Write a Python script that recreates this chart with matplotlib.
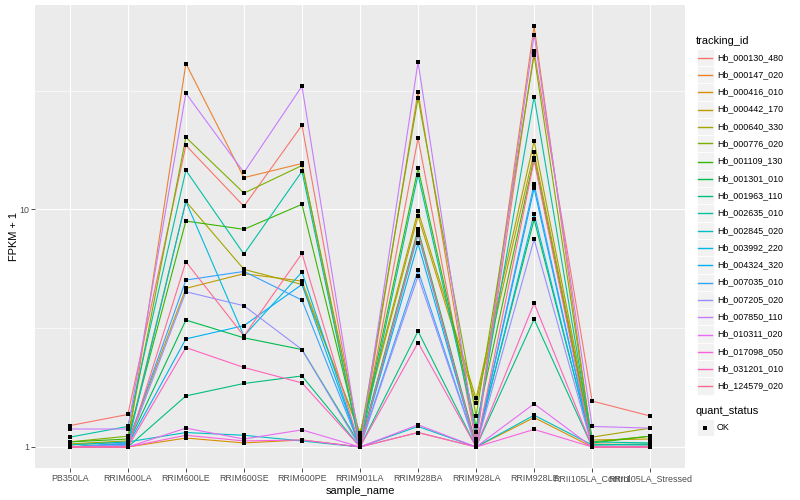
import numpy as np
import matplotlib
matplotlib.use("Agg")
import matplotlib.pyplot as plt
from matplotlib.patches import Rectangle
from matplotlib.lines import Line2D

plt.rcParams['font.family'] = ['Liberation Sans', 'DejaVu Sans']

samples = ["PB350LA", "RRIM600LA", "RRIM600LE", "RRIM600SE", "RRIM600PE", "RRIM901LA",
           "RRIM928BA", "RRIM928LA", "RRIM928LE", "RRII105LA_Control", "RRII105LA_Stressed"]

tracking_ids = ["Hb_000130_480", "Hb_000147_020", "Hb_000416_010", "Hb_000442_170",
                "Hb_000640_330", "Hb_000776_020", "Hb_001109_130", "Hb_001301_010",
                "Hb_001963_110", "Hb_002635_010", "Hb_002845_020", "Hb_003992_220",
                "Hb_004324_320", "Hb_007035_010", "Hb_007205_020", "Hb_007850_110",
                "Hb_010311_020", "Hb_017098_050", "Hb_031201_010", "Hb_124579_020"]

colors = ["#F8766D", "#EA8331", "#D89000", "#C09B00", "#A3A500", "#7CAE00", "#39B600",
          "#00BB4E", "#00BF7D", "#00C1A3", "#00BFC4", "#00BAE0", "#00B0F6", "#35A2FF",
          "#9590FF", "#C77CFF", "#E76BF3", "#FA62DB", "#FF62BC", "#FF6C90"]

Hb_000130_480 = [1.23, 1.37, 18.6, 10.3, 22.6, 1.02, 19.95, 1.04, 46.4, 1.56, 1.35]
Hb_000147_020 = [1.00, 1.02, 41.1, 13.6, 15.6, 1.00, 31.2, 1.08, 59.1, 1.03, 1.02]
Hb_000416_010 = [1.00, 1.00, 1.09, 1.04, 1.07, 1.00, 1.15, 1.00, 1.33, 1.00, 1.00]
Hb_000442_170 = [1.02, 1.05, 4.65, 5.36, 4.99, 1.13, 9.38, 1.53, 17.4, 1.07, 1.08]
Hb_000640_330 = [1.03, 1.06, 10.8, 5.59, 4.83, 1.15, 9.84, 1.60, 19.4, 1.10, 1.20]
Hb_000776_020 = [1.05, 1.11, 20.1, 11.7, 15.3, 1.09, 29.5, 1.35, 44.6, 1.05, 1.11]
Hb_001109_130 = [1.05, 1.08, 8.93, 8.24, 10.5, 1.06, 14.9, 1.22, 16.5, 1.04, 1.11]
Hb_001301_010 = [1.00, 1.03, 3.42, 2.88, 2.57, 1.02, 8.24, 1.02, 9.08, 1.02, 1.03]
Hb_001963_110 = [1.00, 1.00, 1.64, 1.85, 1.99, 1.00, 3.07, 1.00, 3.45, 1.00, 1.00]
Hb_002635_010 = [1.10, 1.22, 14.6, 6.48, 14.45, 1.00, 14.0, 1.16, 29.8, 1.05, 1.04]
Hb_002845_020 = [1.02, 1.05, 1.15, 1.12, 1.06, 1.00, 1.22, 1.00, 1.36, 1.02, 1.02]
Hb_003992_220 = [1.00, 1.03, 10.8, 2.93, 5.45, 1.00, 7.83, 1.00, 9.59, 1.00, 1.00]
Hb_004324_320 = [1.00, 1.02, 2.85, 3.24, 4.83, 1.00, 7.19, 1.00, 12.25, 1.00, 1.00]
Hb_007035_010 = [1.00, 1.04, 5.04, 5.48, 4.15, 1.00, 5.54, 1.00, 12.8, 1.00, 1.00]
Hb_007205_020 = [1.00, 1.02, 4.50, 3.93, 2.57, 1.00, 5.24, 1.00, 7.48, 1.00, 1.00]
Hb_007850_110 = [1.19, 1.19, 30.8, 14.3, 33.0, 1.00, 41.7, 1.05, 54.4, 1.22, 1.20]
Hb_010311_020 = [1.00, 1.00, 1.20, 1.08, 1.18, 1.00, 1.24, 1.00, 1.52, 1.00, 1.00]
Hb_017098_050 = [1.00, 1.00, 1.12, 1.06, 1.07, 1.00, 1.15, 1.00, 1.185, 1.00, 1.00]
Hb_031201_010 = [1.00, 1.00, 2.62, 2.16, 1.86, 1.00, 2.75, 1.00, 4.03, 1.00, 1.00]
Hb_124579_020 = [1.00, 1.00, 6.02, 2.93, 6.52, 1.00, 8.02, 1.00, 16.1, 1.00, 1.00]

series = [Hb_000130_480, Hb_000147_020, Hb_000416_010, Hb_000442_170, Hb_000640_330,
          Hb_000776_020, Hb_001109_130, Hb_001301_010, Hb_001963_110, Hb_002635_010,
          Hb_002845_020, Hb_003992_220, Hb_004324_320, Hb_007035_010, Hb_007205_020,
          Hb_007850_110, Hb_010311_020, Hb_017098_050, Hb_031201_010, Hb_124579_020]

W, H = 800, 500
fig = plt.figure(figsize=(W / 100, H / 100), dpi=100)
fig.patch.set_facecolor("white")

# panel in pixel coords
L, R, T, B = 35, 685, 5, 468
ax = fig.add_axes([L / W, 1 - B / H, (R - L) / W, (B - T) / H])
ax.set_facecolor("#EBEBEB")
for s in ax.spines.values():
    s.set_visible(False)

x = np.arange(len(samples))
for vals, c in zip(series, colors):
    ax.plot(x, vals, color=c, lw=0.8, zorder=3, solid_capstyle="butt")
for vals in series:
    ax.plot(x, vals, ls="none", marker="s", ms=2.8, color="black", mec="black", mew=0, zorder=4)

ax.set_yscale("log")
allv = np.log10(np.array(series))
lo, hi = allv.min(), allv.max()
pad = 0.05 * (hi - lo)
ax.set_ylim(10 ** (lo - pad), 10 ** (hi + pad))
ax.set_xlim(-0.6, len(samples) - 1 + 0.6)

ax.set_yticks([1, 10])
ax.set_yticklabels(["1", "10"])
ax.yaxis.set_minor_locator(matplotlib.ticker.FixedLocator([10 ** 0.5, 10 ** 1.5]))
ax.yaxis.set_minor_formatter(matplotlib.ticker.NullFormatter())
ax.set_xticks(x)
ax.set_xticklabels(samples)

ax.grid(True, which="major", color="white", lw=0.85, zorder=0)
ax.grid(True, which="minor", axis="y", color="white", lw=0.45, zorder=0)
ax.set_axisbelow(True)
ax.tick_params(axis="both", which="major", length=2.8, width=0.6, color="#333333",
               labelsize=6.4, labelcolor="#4D4D4D", pad=1.5)
ax.tick_params(axis="y", which="minor", length=0)

ax.set_xlabel("sample_name", fontsize=7.9, color="black", labelpad=2)
ax.set_ylabel("FPKM + 1", fontsize=7.9, color="black", labelpad=0)

# legend drawn in pixel coordinates
def px(xp, yp):
    return xp / W, 1 - yp / H

kx, kw = 696.5, 17.3
fig.text(*px(696, 40.5), "tracking_id", fontsize=7.9, va="center", ha="left")
y0 = 48.6
for i, (name, c) in enumerate(zip(tracking_ids, colors)):
    top = y0 + i * kw
    fig.add_artist(Rectangle(px(kx, top + kw), kw / W, kw / H, transform=fig.transFigure,
                             facecolor="#F2F2F2", edgecolor="white", lw=0.6, zorder=1))
    cy = np.floor(top + kw / 2) + 0.5
    fig.add_artist(Line2D([(kx + 1.7) / W, (kx + kw - 1.7) / W], [1 - cy / H, 1 - cy / H],
                          transform=fig.transFigure, color=c, lw=1.0, zorder=5))
    fig.text(*px(717, top + kw / 2), name, fontsize=6.4, va="center", ha="left")

fig.text(*px(696, 411.5), "quant_status", fontsize=7.9, va="center", ha="left")
top = 419
fig.add_artist(Rectangle(px(kx, top + kw), kw / W, kw / H, transform=fig.transFigure,
                         facecolor="#F2F2F2", edgecolor="white", lw=0.6, zorder=1))
fig.add_artist(Line2D([(kx + kw / 2) / W], [1 - (top + kw / 2) / H], transform=fig.transFigure,
                      ls="none", marker="s", ms=2.8, color="black", mew=0, zorder=5))
fig.text(*px(717, top + kw / 2), "OK", fontsize=6.4, va="center", ha="left")

fig.savefig("out.png", dpi=100)
